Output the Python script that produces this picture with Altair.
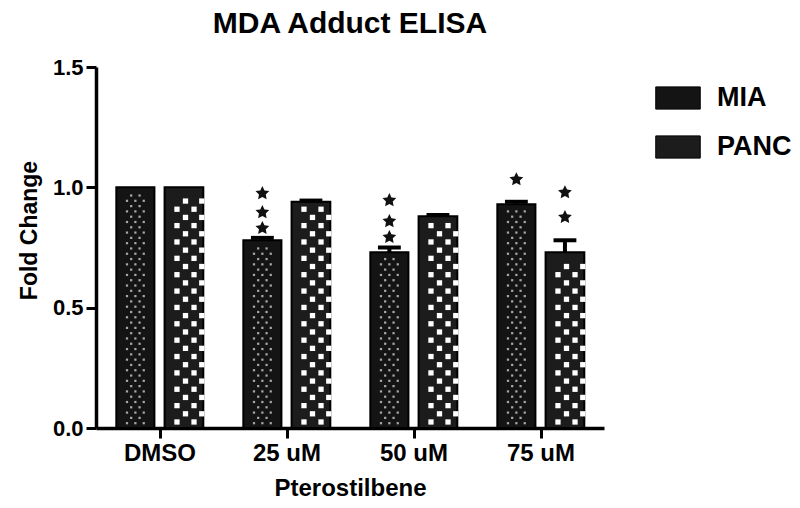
import altair as alt
import pandas as pd
import numpy as np

# ---- data ----
groups = ["DMSO", "25 uM", "50 uM", "75 uM"]
series = ["MIA", "PANC"]
mia = [1.0, 0.78, 0.73, 0.93]
panc = [1.0, 0.94, 0.88, 0.73]
mia_err = [0.0, 0.01, 0.02, 0.01]
panc_err = [0.0, 0.005, 0.005, 0.05]
mia_stars = [[], [0.830, 0.896, 0.975], [0.793, 0.859, 0.946], [1.033]]
panc_stars = [[], [], [], [0.876, 0.979]]

# ---- layout constants (bar placement inside each group) ----
left_off = {"MIA": -0.34, "PANC": 0.04}
right_off = {"MIA": -0.04, "PANC": 0.345}
FONT = "Liberation Sans"

vals = {"MIA": mia, "PANC": panc}
errs = {"MIA": mia_err, "PANC": panc_err}
stars = {"MIA": mia_stars, "PANC": panc_stars}

bars, errrows, starrows, dots = [], [], [], []
for s in series:
    for i, g in enumerate(groups):
        x0 = i + left_off[s]
        x1 = i + right_off[s]
        xc = (x0 + x1) / 2
        v = vals[s][i]
        e = errs[s][i]
        bars.append({"series": s, "group": g, "x0": x0, "x1": x1, "v": v})
        if e > 0:
            errrows.append({"xc": xc, "xl": xc - 0.09, "xr": xc + 0.09, "v": v, "top": v + e})
        for sy in stars[s][i]:
            starrows.append({"xc": xc, "y": sy})
        w = x1 - x0
        # texture dots (decoration only)
        if s == "PANC":
            k = 0
            y = 0.025
            while y < v - 0.025:
                fr = [0.32, 0.76] if k % 2 == 0 else [0.54, 0.96]
                for f in fr:
                    dots.append({"x": x0 + f * w, "y": y, "kind": "big"})
                y += 0.034
                k += 1
        else:
            k = 0
            y = 0.02
            while y < v - 0.02:
                fr = [0.28, 0.5, 0.72] if k % 2 == 0 else [0.39, 0.61]
                for f in fr:
                    dots.append({"x": x0 + f * w, "y": y, "kind": "small"})
                y += 0.022
                k += 1

bars_df = pd.DataFrame(bars)
err_df = pd.DataFrame(errrows)
star_df = pd.DataFrame(starrows)
dot_df = pd.DataFrame(dots)

xscale = alt.Scale(domain=[-0.5, 3.5], nice=False, zero=False)
yscale = alt.Scale(domain=[0, 1.5], nice=False)

label_expr = "[" + ",".join(f"'{g}'" for g in groups) + "][round(datum.value)]"

xaxis = alt.Axis(
    values=[0, 1, 2, 3], labelExpr=label_expr, title="Pterostilbene",
    labelFontSize=24, labelFontWeight="bold", labelFont=FONT, labelColor="black",
    titleFontSize=24, titleFontWeight="bold", titleFont=FONT, titleColor="black",
    tickSize=10, tickWidth=3, domainWidth=3.5, domainColor="black", tickColor="black",
    labelPadding=3, titleY=60, titleBaseline="middle", grid=False,
)
yaxis = alt.Axis(
    values=[0, 0.5, 1.0, 1.5], format=".1f", title="Fold Change",
    labelFontSize=22, labelFontWeight="bold", labelFont=FONT, labelColor="black",
    titleFontSize=23, titleFontWeight="bold", titleFont=FONT, titleColor="black",
    tickSize=10, tickWidth=3, domainWidth=3.5, domainColor="black", tickColor="black",
    labelPadding=3, titleX=-67, titleY=163, titleAngle=-90, titleAlign="center",
    titleBaseline="middle", grid=False,
)

bar_layer = alt.Chart(bars_df).mark_bar(stroke="black", strokeWidth=2).encode(
    x=alt.X("x0:Q", scale=xscale, axis=xaxis),
    x2="x1:Q",
    y=alt.Y("v:Q", scale=yscale, axis=yaxis),
    y2=alt.datum(0),
    color=alt.Color(
        "series:N",
        scale=alt.Scale(domain=series, range=["#141414", "#1c1c1c"]),
        legend=alt.Legend(
            title=None, orient="none", legendX=559, legendY=8,
            symbolType="M-1,-0.5H1V0.5H-1Z", symbolSize=1980,
            symbolStrokeColor="black", symbolStrokeWidth=1,
            labelFontSize=27, labelFontWeight="bold", labelFont=FONT, labelColor="black",
            labelOffset=16, rowPadding=12, padding=0,
        ),
    ),
)

dot_small = alt.Chart(dot_df[dot_df.kind == "small"]).mark_square(
    size=5, color="#a8a8a8", opacity=1
).encode(x=alt.X("x:Q", scale=xscale), y=alt.Y("y:Q", scale=yscale))

dot_big = alt.Chart(dot_df[dot_df.kind == "big"]).mark_square(
    size=28, color="white", opacity=1
).encode(x=alt.X("x:Q", scale=xscale), y=alt.Y("y:Q", scale=yscale))

err_stem = alt.Chart(err_df).mark_rule(color="black", strokeWidth=4).encode(
    x=alt.X("xc:Q", scale=xscale), y=alt.Y("v:Q", scale=yscale), y2="top:Q"
)
err_cap = alt.Chart(err_df).mark_rule(color="black", strokeWidth=4).encode(
    x=alt.X("xl:Q", scale=xscale), x2="xr:Q", y=alt.Y("top:Q", scale=yscale)
)

STAR = ("M0,-1L0.29,-0.4L0.951,-0.309L0.47,0.15L0.588,0.809L0,0.5"
        "L-0.588,0.809L-0.47,0.15L-0.951,-0.309L-0.29,-0.4Z")
star_layer = alt.Chart(star_df).mark_point(
    shape=STAR, filled=True, color="#111", size=210, opacity=1
).encode(x=alt.X("xc:Q", scale=xscale), y=alt.Y("y:Q", scale=yscale))

chart = alt.layer(bar_layer, dot_small, dot_big, err_stem, err_cap, star_layer).properties(
    width=508, height=361,
    title=alt.TitleParams("MDA Adduct ELISA", fontSize=30, fontWeight="bold", font=FONT,
                          color="black", anchor="middle", offset=17),
    autosize=alt.AutoSizeParams(type="none"),
    padding={"left": 88, "top": 59, "right": 188, "bottom": 72},
    background="white",
).configure_view(stroke=None, strokeWidth=0).configure_axis(grid=False)

chart.save("out.html", embed_options={"renderer": "svg", "actions": False})
